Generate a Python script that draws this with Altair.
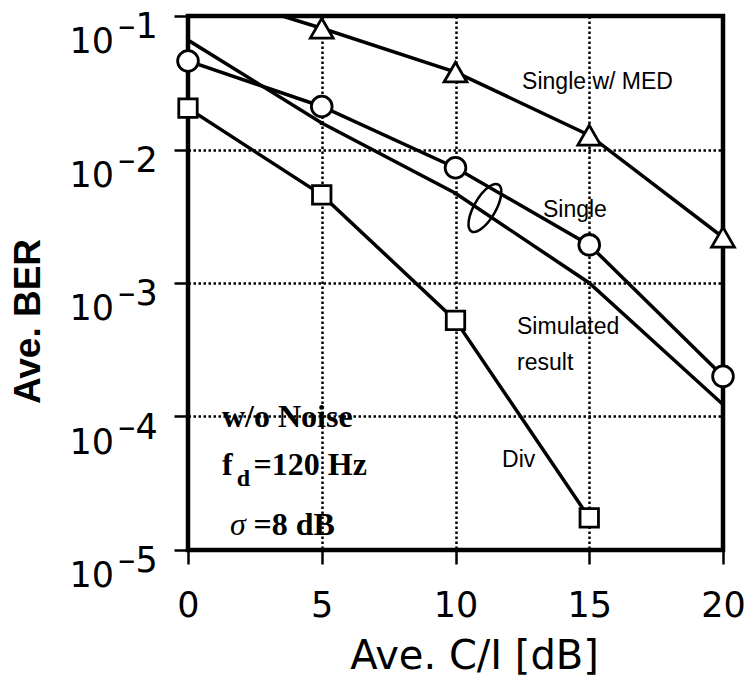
import altair as alt
import pandas as pd

# ---------------- data ----------------
x_db = [0, 5, 10, 15, 20]
ber_med = [0.165, 0.081, 0.038, 0.0128, 0.0022]        # Single w/ MED (triangles)
ber_single = [0.046, 0.021, 0.0073, 0.00193, 0.0002]   # Single (circles)
ber_sim = [0.066, 0.0158, 0.0047, 0.00100, 0.000123]   # Simulated result (line)
x_div = [0, 5, 10, 15]
ber_div = [0.0204, 0.00457, 0.000525, 0.0000174]       # Div (squares)

x_ticks = [0, 5, 10, 15, 20]
y_ticks = [1e-1, 1e-2, 1e-3, 1e-4, 1e-5]
y_tick_base = ["10", "10", "10", "10", "10"]
y_tick_exp = ["–1", "–2", "–3", "–4", "–5"]

curve_labels = ["Single w/ MED", "Single", "Simulated", "result", "Div"]
curve_label_x = [12.49, 13.27, 12.3, 12.3, 11.74]
curve_label_y = [0.032, 0.0035, 0.00047, 0.00025, 4.7e-5]

cond_text = ["w/o Noise", "f", "=120 Hz", "=8 dB"]
cond_x = [1.27, 1.27, 2.45, 2.45]
cond_y = [9.9e-5, 4.34e-5, 4.34e-5, 1.54e-5]
sub_text = ["d"]
sub_x = [1.82]
sub_y = [3.4e-5]
sigma_text = ["σ"]
sigma_x = [1.57]
sigma_y = [1.54e-5]

ellipse_x = [11.1]
ellipse_y = [0.00365]

# ---------------- tables ----------------
rows = []
for name, xs, ys in [("med", x_db, ber_med), ("single", x_db, ber_single),
                     ("sim", x_db, ber_sim), ("div", x_div, ber_div)]:
    for a, b in zip(xs, ys):
        rows.append({"series": name, "x": a, "y": b})
curves = pd.DataFrame(rows)

ticks_df = pd.DataFrame({"y": y_ticks, "base": y_tick_base, "exp": y_tick_exp})
labels_df = pd.DataFrame({"x": curve_label_x, "y": curve_label_y, "t": curve_labels})
cond_df = pd.DataFrame({"x": cond_x, "y": cond_y, "t": cond_text})
sub_df = pd.DataFrame({"x": sub_x, "y": sub_y, "t": sub_text})
sigma_df = pd.DataFrame({"x": sigma_x, "y": sigma_y, "t": sigma_text})
ell_df = pd.DataFrame({"x": ellipse_x, "y": ellipse_y})

xscale = alt.Scale(domain=[0, 20], nice=False, zero=False)
yscale = alt.Scale(type="log", domain=[1e-5, 1e-1], nice=False)

xaxis = alt.Axis(values=x_ticks, grid=True, gridColor="black", gridDash=[2.5, 2.5],
                 gridWidth=2.5, gridOpacity=1, domain=False, ticks=True, tickSize=14,
                 tickWidth=2.5, tickColor="black", labelFont="DejaVu Sans",
                 labelFontSize=35, labelColor="black", labelPadding=24,
                 labelFlush=False, labelOverlap=False,
                 title="Ave. C/I [dB]", titleFont="DejaVu Sans", titleFontSize=40,
                 titleFontWeight="normal", titleColor="black", titleX=286, titleY=106,
                 titleAlign="center", titleBaseline="middle")
yaxis = alt.Axis(values=y_ticks, grid=True, gridColor="black", gridDash=[2.5, 2.5],
                 gridWidth=2.5, gridOpacity=1, domain=False, ticks=True, tickSize=14,
                 tickWidth=2.5, tickColor="black", labels=False,
                 title="Ave. BER", titleFont="Liberation Sans", titleFontSize=37,
                 titleFontWeight="bold", titleColor="black", titleX=-160, titleY=305,
                 titleAlign="center", titleBaseline="middle", titleAngle=270)


def X():
    return alt.X("x:Q", scale=xscale, axis=xaxis)


def Y():
    return alt.Y("y:Q", scale=yscale, axis=yaxis)


lines = alt.Chart(curves).mark_line(clip=True, strokeWidth=3.5, color="black").encode(
    x=X(), y=Y(), detail="series:N")

marker_series = ["med", "single", "div"]
points = alt.Chart(curves).transform_filter(
    "datum.y <= 0.1 && datum.series != 'sim'"
).mark_point(filled=True, fill="white", stroke="black", strokeWidth=2.8, opacity=1).encode(
    x=X(), y=Y(),
    shape=alt.Shape("series:N", scale=alt.Scale(domain=marker_series,
                    range=["triangle-up", "circle", "square"]), legend=None),
    size=alt.Size("series:N", scale=alt.Scale(domain=marker_series,
                  range=[520, 340, 330]), legend=None),
)

sim_marks = alt.Chart(curves).transform_filter("datum.series == 'sim'").mark_square(
    size=16, color="black", opacity=1).encode(x=X(), y=Y())

ellipse_path = ("M0,-1 C0.2209,-1 0.4,-0.5523 0.4,0 C0.4,0.5523 0.2209,1 0,1 "
                "C-0.2209,1 -0.4,0.5523 -0.4,0 C-0.4,-0.5523 -0.2209,-1 0,-1 Z")
ellipse = alt.Chart(ell_df).mark_point(shape=ellipse_path, size=2916, angle=30,
                                       filled=False, stroke="black", strokeWidth=2.5,
                                       opacity=1).encode(x=X(), y=Y())

frame = alt.Chart(ell_df).mark_rect(fill=None, stroke="black", strokeWidth=4.5).encode(
    x=alt.value(0), x2=alt.value(535), y=alt.value(0), y2=alt.value(534))

tick_base = alt.Chart(ticks_df).mark_text(align="right", baseline="middle", dy=26,
                                          font="DejaVu Sans", fontSize=35,
                                          color="black").encode(
    x=alt.value(-74), y=Y(), text="base:N")
tick_exp = alt.Chart(ticks_df).mark_text(align="left", baseline="middle", dy=11,
                                         font="DejaVu Sans", fontSize=35,
                                         color="black").encode(
    x=alt.value(-70), y=Y(), text="exp:N")

curve_text = alt.Chart(labels_df).mark_text(align="left", baseline="middle",
                                            font="Liberation Sans", fontSize=23,
                                            color="black").encode(
    x=X(), y=Y(), text="t:N")

cond_layer = alt.Chart(cond_df).mark_text(align="left", baseline="middle",
                                          font="Liberation Serif", fontSize=32,
                                          fontWeight="bold", color="black").encode(
    x=X(), y=Y(), text="t:N")
sub_layer = alt.Chart(sub_df).mark_text(align="left", baseline="middle",
                                        font="Liberation Serif", fontSize=24,
                                        fontWeight="bold", color="black").encode(
    x=X(), y=Y(), text="t:N")
sigma_layer = alt.Chart(sigma_df).mark_text(align="left", baseline="middle",
                                            font="Liberation Serif", fontSize=32,
                                            fontStyle="italic", color="black").encode(
    x=X(), y=Y(), text="t:N")

chart = alt.layer(
    lines, sim_marks, frame, points, ellipse, tick_base, tick_exp,
    curve_text, cond_layer, sub_layer, sigma_layer
).properties(
    width=535, height=534,
    autosize=alt.AutoSizeParams(type="none"),
    padding={"left": 188, "top": 16, "right": 32, "bottom": 133},
).configure_view(
    stroke=None, fill="white"
).configure(background="white")

chart.save("out.html", embed_options={"renderer": "svg", "actions": False})
